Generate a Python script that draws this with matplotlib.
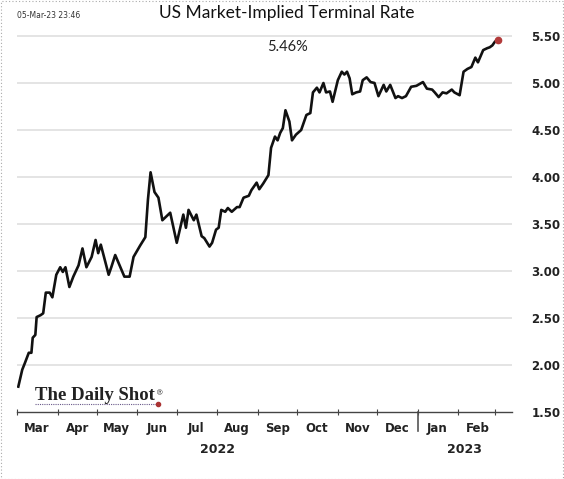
import matplotlib
matplotlib.use("Agg")
import matplotlib.pyplot as plt
import matplotlib.dates as mdates
from matplotlib.transforms import blended_transform_factory
from matplotlib.patches import Rectangle
import pandas as pd

# ---------------- data ----------------
start_date = "2022-03-01"
day_offsets = [1, 4, 6, 9, 11, 12, 14, 15, 18, 20, 22, 25, 27, 30, 33, 35, 37, 40, 43, 47,
               50, 53, 57, 60, 62, 64, 67, 70, 72, 75, 79, 82, 86, 89, 94, 98, 100, 102, 105, 108,
               111, 117, 122, 127, 129, 131, 135, 137, 141, 143, 147, 149, 152, 154, 156, 159, 161, 164, 168, 170,
               173, 177, 179, 183, 185, 188, 192, 194, 197, 199, 201, 203, 205, 208, 210, 213, 217, 221, 224, 226,
               229, 231, 234, 236, 239, 241, 245, 248, 250, 252, 254, 256, 259, 262, 264, 267, 270, 273, 276, 280,
               282, 285, 289, 291, 294, 297, 301, 305, 310, 313, 317, 319, 322, 325, 328, 332, 334, 338, 341, 344,
               347, 350, 352, 356, 359, 361, 363, 365, 367]
rates = [1.77, 1.95, 2.02, 2.13, 2.13, 2.29, 2.32, 2.51, 2.53, 2.55, 2.77, 2.77, 2.72, 2.96, 3.04, 2.99, 3.04, 2.83, 2.94, 3.06,
         3.24, 3.04, 3.15, 3.33, 3.19, 3.28, 3.12, 2.96, 3.04, 3.17, 3.04, 2.94, 2.94, 3.15, 3.27, 3.36, 3.76, 4.05, 3.84, 3.78,
         3.54, 3.62, 3.30, 3.60, 3.46, 3.65, 3.54, 3.60, 3.37, 3.35, 3.26, 3.30, 3.44, 3.46, 3.65, 3.63, 3.67, 3.63, 3.68, 3.68,
         3.78, 3.80, 3.86, 3.94, 3.87, 3.93, 4.02, 4.31, 4.43, 4.39, 4.47, 4.52, 4.71, 4.59, 4.39, 4.45, 4.50, 4.66, 4.68, 4.90,
         4.95, 4.90, 5.00, 4.90, 4.91, 4.80, 5.03, 5.12, 5.09, 5.12, 5.05, 4.88, 4.90, 4.91, 5.03, 5.06, 5.01, 5.00, 4.86, 4.98,
         4.91, 4.98, 4.84, 4.86, 4.84, 4.86, 4.96, 4.97, 5.01, 4.94, 4.93, 4.90, 4.85, 4.90, 4.89, 4.93, 4.90, 4.87, 5.12, 5.15,
         5.17, 5.27, 5.22, 5.35, 5.37, 5.38, 5.40, 5.44, 5.46]
y_ticks = [1.5, 2.0, 2.5, 3.0, 3.5, 4.0, 4.5, 5.0, 5.5]
title = "US Market-Implied Terminal Rate"
timestamp = "05-Mar-23 23:46"
last_label = "5.46%"
years = ["2022", "2023"]

dates = pd.Timestamp(start_date) + pd.to_timedelta(day_offsets, unit="D")

# ---------------- figure ----------------
fig = plt.figure(figsize=(5.64, 4.79), dpi=100)
ax = fig.add_axes([17 / 564, 67 / 479, 495 / 564, (412 - 26.6) / 479])

x_left = pd.Timestamp("2022-03-01")
x_right = pd.Timestamp("2023-03-14")
x_year = pd.Timestamp("2023-01-01")
ax.set_xlim(x_left, x_right)
ax.set_ylim(1.5, 5.6)

# gridlines
for v in y_ticks[1:]:
    ax.axhline(v, color="#e2e2e2", lw=1.3, zorder=1)

ax.plot(dates, rates, color="#111111", lw=1.9, zorder=3, solid_joinstyle="round")
ax.plot(dates[-1:], rates[-1:], "o", color="#b23a3a", ms=4.5, zorder=4)

# y axis on right
ax.yaxis.tick_right()
ax.set_yticks(y_ticks)
ax.yaxis.set_major_formatter(matplotlib.ticker.FormatStrFormatter("%.2f"))
ax.tick_params(axis="y", length=0, pad=14, labelsize=8.5, labelcolor="#222222")
for lbl in ax.get_yticklabels():
    lbl.set_fontweight("bold")

# x axis
ax.xaxis.set_major_locator(mdates.MonthLocator())
ax.xaxis.set_major_formatter(matplotlib.ticker.NullFormatter())
ax.xaxis.set_minor_locator(mdates.MonthLocator(bymonthday=16))
ax.xaxis.set_minor_formatter(mdates.DateFormatter("%b"))
ax.tick_params(axis="x", which="major", length=5, direction="inout", color="#444444", width=0.8)
ax.tick_params(axis="x", which="minor", length=0, pad=7, labelsize=8.5, labelcolor="#222222")
for lbl in ax.get_xticklabels(minor=True):
    lbl.set_fontweight("bold")

for s in ["top", "left", "right"]:
    ax.spines[s].set_visible(False)
ax.spines["bottom"].set_color("#444444")
ax.spines["bottom"].set_linestyle((0, (3, 1)))
ax.spines["bottom"].set_linewidth(1.0)

# year separator and year labels
trans = blended_transform_factory(ax.transData, ax.transAxes)
ax.plot([x_year, x_year], [0, -0.05], transform=trans, color="#555555", lw=1.2, clip_on=False)
mid_2022 = x_left + (x_year - x_left) / 2
mid_2023 = x_year + (x_right - x_year) / 2
ax.text(mid_2022, -0.097, years[0], transform=trans, ha="center", va="center",
        fontsize=9, fontweight="bold", color="#222222")
ax.text(mid_2023, -0.097, years[1], transform=trans, ha="center", va="center",
        fontsize=9, fontweight="bold", color="#222222")

# texts
fig.text(287 / 564, 1 - 13 / 479, title, ha="center", va="center", fontsize=12.5,
         family="Lato", color="#111111")
fig.text(17 / 564, 1 - 16 / 479, timestamp, ha="left", va="center", fontsize=5.5, color="#333333")
fig.text(287 / 564, 1 - 47 / 479, last_label, ha="center", va="center", fontsize=10.5,
         family="Lato", color="#222222")

# logo
logo = fig.text(35 / 564, 1 - 396 / 479, "The Daily Shot", ha="left", va="center", fontsize=13.5,
                family="Liberation Serif", fontweight="bold", color="#222222")
fig.add_artist(plt.Line2D([35 / 564, 157 / 564], [1 - 404 / 479, 1 - 404 / 479],
                          transform=fig.transFigure, color="#6a5a8a", lw=0.8, ls=(0, (1, 1))))
fig.add_artist(plt.Line2D([158 / 564], [1 - 404 / 479], transform=fig.transFigure,
                          marker="o", ms=3, color="#a33"))

# figure border
fig.add_artist(Rectangle((0.001, 0.001), 0.997, 0.997, transform=fig.transFigure,
                         fill=False, ec="#aaaaaa", lw=0.8, ls=(0, (1, 2))))

fig.canvas.draw()
bb = logo.get_window_extent()
fig.text((bb.x1 + 1) / fig.bbox.width, (bb.y1 - 2) / fig.bbox.height, "®", ha="left", va="top",
         fontsize=5.5, family="DejaVu Serif", color="#222222")

fig.savefig("out.png", dpi=100)
